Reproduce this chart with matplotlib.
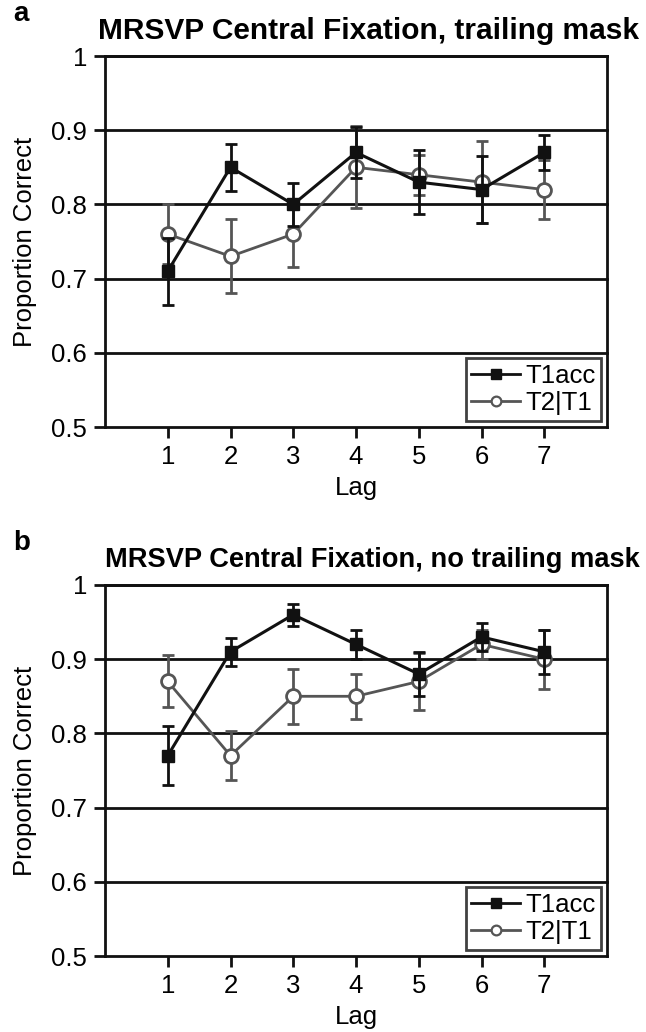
import matplotlib
matplotlib.use("Agg")
import matplotlib.pyplot as plt
from matplotlib.lines import Line2D

plt.rcParams['font.family'] = ['Liberation Sans', 'DejaVu Sans']

lags = [1, 2, 3, 4, 5, 6, 7]
yticks = [0.5, 0.6, 0.7, 0.8, 0.9, 1.0]
ytick_labels = ["0.5", "0.6", "0.7", "0.8", "0.9", "1"]

# Panel a: trailing mask
a_t1 = [0.71, 0.85, 0.80, 0.87, 0.83, 0.82, 0.87]
a_t1_err = [0.045, 0.032, 0.029, 0.034, 0.043, 0.045, 0.024]
a_t2 = [0.76, 0.73, 0.76, 0.85, 0.84, 0.83, 0.82]
a_t2_err = [0.040, 0.050, 0.044, 0.055, 0.027, 0.055, 0.040]

# Panel b: no trailing mask
b_t1 = [0.77, 0.91, 0.96, 0.92, 0.88, 0.93, 0.91]
b_t1_err = [0.040, 0.019, 0.015, 0.020, 0.030, 0.019, 0.030]
b_t2 = [0.87, 0.77, 0.85, 0.85, 0.87, 0.92, 0.90]
b_t2_err = [0.035, 0.033, 0.037, 0.030, 0.038, 0.020, 0.040]

titles = ["MRSVP Central Fixation, trailing mask",
          "MRSVP Central Fixation, no trailing mask"]
panel_letters = ["a", "b"]

BLACK = "#111111"
GRAY = "#555555"

fig = plt.figure(figsize=(6.46, 10.32), dpi=100)
W, H = 646, 1032
left, right = 105, 607
tops = [56, 585]
ph = 371
title_sizes = [21.5, 19.6]
title_centers = [368, 372]

FS = 18.5
LW = 2.0
panels = [(a_t1, a_t1_err, a_t2, a_t2_err), (b_t1, b_t1_err, b_t2, b_t2_err)]
for i, (t1, t1e, t2, t2e) in enumerate(panels):
    top = tops[i]
    ax = fig.add_axes([left / W, 1 - (top + ph) / H, (right - left) / W, ph / H])
    ax.set_xlim(0, 8)
    ax.set_ylim(0.5, 1.0)
    for y in yticks[1:]:
        ax.axhline(y, color=BLACK, lw=LW, zorder=1, clip_on=False)
    ax.errorbar(lags, t2, yerr=t2e, color=GRAY, lw=2.0, ecolor=GRAY,
                elinewidth=2.0, capsize=4.5, capthick=2.0, marker='o',
                markersize=10, markerfacecolor='white', markeredgecolor=GRAY,
                markeredgewidth=2.0, zorder=3)
    ax.errorbar(lags, t1, yerr=t1e, color=BLACK, lw=2.2, ecolor=BLACK,
                elinewidth=2.0, capsize=4.5, capthick=2.0, marker='s',
                markersize=9, markerfacecolor=BLACK, markeredgecolor=BLACK,
                zorder=4)
    ax.set_xticks(lags)
    ax.set_xticklabels([str(l) for l in lags])
    ax.set_yticks(yticks)
    ax.set_yticklabels(ytick_labels)
    ax.tick_params(axis='both', direction='out', length=8, width=LW,
                   color=BLACK, labelsize=FS, pad=5)
    for s in ax.spines.values():
        s.set_linewidth(LW)
        s.set_color(BLACK)
    ax.set_xlabel("Lag", fontsize=FS, labelpad=5)
    ax.set_ylabel("Proportion Correct", fontsize=FS, labelpad=10)
    handles = [Line2D([], [], color=BLACK, lw=2.0, marker='s', markersize=6.5,
                      markerfacecolor=BLACK),
               Line2D([], [], color=GRAY, lw=2.0, marker='o', markersize=7,
                      markerfacecolor='white', markeredgecolor=GRAY,
                      markeredgewidth=1.6)]
    leg = ax.legend(handles, ["T1acc", "T2|T1"], loc='lower right',
                    fontsize=FS, frameon=True, fancybox=False,
                    edgecolor=BLACK, handlelength=1.9, handletextpad=0.2,
                    borderpad=0.2, labelspacing=0.15, borderaxespad=0.25)
    leg.get_frame().set_linewidth(LW)
    fig.text(title_centers[i] / W, 1 - (top - 25) / H, titles[i],
             fontsize=title_sizes[i], fontweight='bold', ha='center',
             va='center')
    fig.text(13 / W, 1 - (top - 42) / H, panel_letters[i], fontsize=20,
             fontweight='bold', va='center', ha='left')

fig.savefig("out.png", dpi=100)
